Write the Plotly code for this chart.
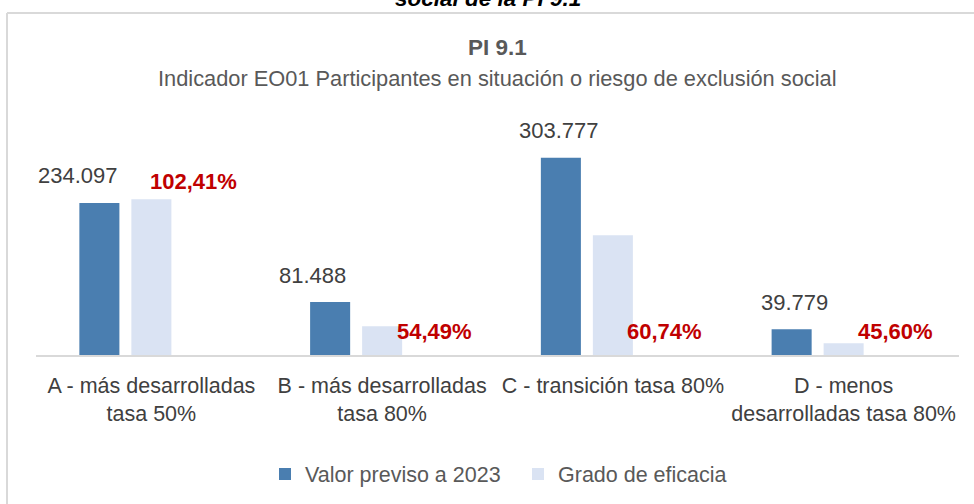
import plotly.graph_objects as go

# ---- data ----
categories = [
    "A - más desarrolladas<br>tasa 50%",
    "B - más desarrolladas<br>tasa 80%",
    "C - transición tasa 80%",
    "D - menos<br>desarrolladas tasa 80%",
]
valor_previsto = [234097, 81488, 303777, 39779]
grado_eficacia_pct = [102.41, 54.49, 60.74, 45.60]
valor_label = ["234.097", "81.488", "303.777", "39.779"]
pct_label = ["102,41%", "54,49%", "60,74%", "45,60%"]
# achieved value = forecast * efficacy
valor_alcanzado = [v * p / 100 for v, p in zip(valor_previsto, grado_eficacia_pct)]

series_names = ["Valor previso a 2023", "Grado de eficacia"]
title_main = "PI 9.1"
title_sub = "Indicador EO01 Participantes en situación o riesgo de exclusión social"
caption_top = "social de la PI 9.1"

# ---- style ----
FONT = "Liberation Sans, Arial, sans-serif"
FS = 21.5
DARK = "#4a7eb0"
LIGHT = "#dae3f3"
RED = "#c00000"
GRAY = "#404040"
BORDER = "#d9d9d9"
W, H = 974, 504
ML, MR, MT, MB = 36, 15, 105, 149
PW, PH = W - ML - MR, H - MT - MB
YMAX = 385000
SLOT = 52  # px pitch between bars in a group
dark_label_dx = [-21, -18, -2, 3]
pct_anchor_on_bar = [True, False, False, False]
pct_label_dx = [-10, 0, 0, 0]


def py(px):  # pixel (from top) -> paper y
    return (H - MB - px) / PH


def pxx(px):  # pixel x -> paper x
    return (px - ML) / PW


fig = go.Figure()
fig.add_bar(x=categories, y=valor_previsto, name=series_names[0],
            marker=dict(color=DARK, line=dict(width=0)), hoverinfo="skip")
fig.add_bar(x=categories, y=valor_alcanzado, name=series_names[1],
            marker=dict(color=LIGHT, line=dict(width=0)), hoverinfo="skip")
# invisible third slot (efficacy label series)
fig.add_bar(x=categories, y=[0] * len(categories), showlegend=False,
            marker=dict(color="rgba(0,0,0,0)", line=dict(width=0)), hoverinfo="skip")

ann = []
for i, c in enumerate(categories):
    ann.append(dict(x=c, y=valor_previsto[i], xref="x", yref="y",
                    text=valor_label[i], showarrow=False,
                    xshift=-SLOT + dark_label_dx[i], yshift=27, yanchor="middle",
                    font=dict(family=FONT, size=FS + 0.5, color=GRAY)))
    if pct_anchor_on_bar[i]:
        yv, ys = valor_alcanzado[i], 18
    else:
        yv, ys = 0, 24
    ann.append(dict(x=c, y=yv, xref="x", yref="y", text="<b>%s</b>" % pct_label[i],
                    showarrow=False, xshift=SLOT + pct_label_dx[i], yshift=ys,
                    yanchor="middle",
                    font=dict(family=FONT, size=FS + 0.5, color=RED)))

ann.append(dict(x=0.5, y=py(47), xref="paper", yref="paper", text="<b>%s</b>" % title_main,
                showarrow=False, yanchor="middle",
                font=dict(family=FONT, size=FS + 1, color="#595959")))
ann.append(dict(x=0.5, y=py(79), xref="paper", yref="paper", text=title_sub,
                showarrow=False, yanchor="middle",
                font=dict(family=FONT, size=FS + 0.3, color="#595959")))
ann.append(dict(x=pxx(488), y=py(-2), xref="paper", yref="paper",
                text="<b><i>%s</i></b>" % caption_top,
                showarrow=False, yanchor="middle",
                font=dict(family=FONT, size=FS + 1, color="#000000")))

fig.update_layout(
    width=W, height=H,
    margin=dict(l=ML, r=MR, t=MT, b=MB, pad=0, autoexpand=False),
    paper_bgcolor="white", plot_bgcolor="white",
    barmode="group", bargap=0.324, bargroupgap=0.23,
    showlegend=True,
    legend=dict(orientation="h", x=pxx(265), xanchor="left", y=py(474), yanchor="middle",
                font=dict(family=FONT, size=FS, color="#595959"),
                itemwidth=30, entrywidth=208, entrywidthmode="pixels",
                traceorder="normal"),
    annotations=ann,
    shapes=[
        dict(type="line", xref="paper", yref="paper",
             x0=pxx(7), x1=pxx(1000), y0=py(13), y1=py(13),
             line=dict(color=BORDER, width=2), layer="below"),
        dict(type="line", xref="paper", yref="paper",
             x0=pxx(7), x1=pxx(7), y0=py(13), y1=py(520),
             line=dict(color=BORDER, width=2), layer="below"),
    ],
    xaxis=dict(showline=True, linecolor=BORDER, linewidth=2, ticks="",
               showgrid=False, tickangle=0, automargin=False,
               tickfont=dict(family=FONT, size=FS, color=GRAY),
               ticklabelstandoff=10),
    yaxis=dict(range=[0, YMAX], visible=False, showgrid=False, automargin=False),
)

fig.write_html("out.html", config={"displayModeBar": False},
               post_script=("document.documentElement.style.overflow='hidden';"
                            "document.body.style.margin='0';"
                            "document.body.style.overflow='hidden';"))
